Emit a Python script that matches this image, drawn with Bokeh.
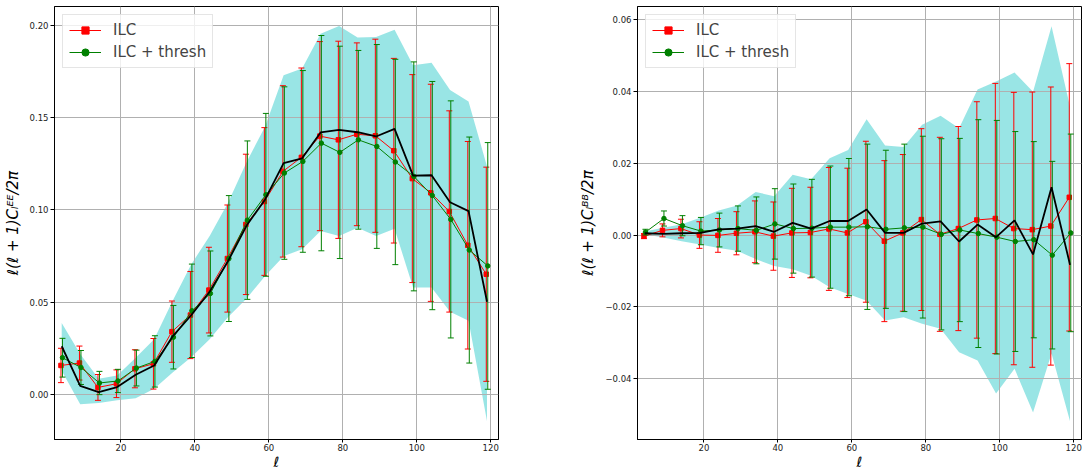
import numpy as np
from bokeh.plotting import figure
from bokeh.layouts import row
from bokeh.models import (ColumnDataSource, Range1d, FixedTicker, CustomJSTickFormatter,
                          Legend, LegendItem)
from bokeh.transform import dodge
from bokeh.embed import file_html
from bokeh.resources import INLINE

# multipole bins
ell = [4, 9, 14, 19, 24, 29, 34, 39, 44, 49, 54, 59, 64, 69, 74, 79, 84, 89, 94, 99, 104, 109, 114, 119]

# ---------------- EE ----------------
ee_input = [0.0262, 0.0047, 0.0014, 0.0041, 0.0108, 0.0158, 0.0316, 0.0430, 0.0557, 0.0724, 0.0916, 0.1057,
            0.1254, 0.1280, 0.1420, 0.1434, 0.1421, 0.1398, 0.1439, 0.1186, 0.1188, 0.1042, 0.0994, 0.0503]
ee_band_lo = [0.0130, -0.0052, -0.0045, -0.0030, -0.0020, 0.0032, 0.0120, 0.0203, 0.0300, 0.0420, 0.0520, 0.0643,
              0.0750, 0.0787, 0.0886, 0.0859, 0.0904, 0.0859, 0.0898, 0.0580, 0.0580, 0.0449, 0.0400, -0.0144]
ee_band_hi = [0.0388, 0.0220, 0.0086, 0.0104, 0.0200, 0.0300, 0.0508, 0.0705, 0.0859, 0.1040, 0.1260, 0.1452,
              0.1730, 0.1766, 0.1955, 0.1997, 0.1934, 0.1937, 0.1976, 0.1784, 0.1797, 0.1650, 0.1587, 0.1236]
ee_ilc = [0.0158, 0.0171, 0.0039, 0.0059, 0.0140, 0.0167, 0.0341, 0.0431, 0.0566, 0.0737, 0.0922, 0.1046,
          0.1209, 0.1285, 0.1400, 0.1380, 0.1410, 0.1402, 0.1321, 0.1170, 0.1093, 0.0992, 0.0809, 0.0652]
ee_ilc_err = [0.0093, 0.0092, 0.0070, 0.0075, 0.0103, 0.0137, 0.0166, 0.0236, 0.0232, 0.0290, 0.0380, 0.0400,
              0.0464, 0.0484, 0.0512, 0.0534, 0.0495, 0.0523, 0.0500, 0.0563, 0.0588, 0.0545, 0.0562, 0.0580]
ee_thr = [0.0200, 0.0147, 0.0063, 0.0074, 0.0144, 0.0180, 0.0311, 0.0454, 0.0548, 0.0737, 0.0945, 0.1082,
          0.1200, 0.1263, 0.1362, 0.1312, 0.1380, 0.1344, 0.1260, 0.1182, 0.1078, 0.0949, 0.0783, 0.0697]
ee_thr_err = [0.0105, 0.0092, 0.0063, 0.0063, 0.0097, 0.0139, 0.0172, 0.0253, 0.0230, 0.0341, 0.0429, 0.0441,
              0.0467, 0.0492, 0.0583, 0.0575, 0.0484, 0.0552, 0.0556, 0.0620, 0.0618, 0.0642, 0.0612, 0.0668]

# ---------------- BB ----------------
bb_input = [0.0005, 0.0003, 0.0005, 0.0006, 0.0016, 0.0018, 0.0025, 0.0009, 0.0034, 0.0018, 0.0039, 0.0039,
            0.0071, 0.0006, 0.0006, 0.0032, 0.0038, -0.0018, 0.0029, -0.0006, 0.0041, -0.0054, 0.0133, -0.0083]
bb_band_lo = [0.0002, -0.0007, -0.0017, -0.0026, -0.0036, -0.0044, -0.0067, -0.0086, -0.0095, -0.0113, -0.0145,
              -0.0164, -0.0183, -0.0238, -0.0229, -0.0247, -0.0261, -0.0326, -0.0349, -0.0441, -0.0372, -0.0494,
              -0.0330, -0.0518]
bb_band_hi = [0.0010, 0.0020, 0.0030, 0.0048, 0.0068, 0.0082, 0.0120, 0.0108, 0.0168, 0.0155, 0.0214, 0.0237,
              0.0322, 0.0249, 0.0245, 0.0307, 0.0332, 0.0297, 0.0405, 0.0427, 0.0452, 0.0399, 0.0581, 0.0357]
bb_ilc = [-0.0003, 0.0013, 0.0018, 0.0000, -0.0001, 0.0005, 0.0009, -0.0003, 0.0006, 0.0007, 0.0017, 0.0006,
          0.0037, -0.0017, 0.0006, 0.0043, 0.0002, 0.0018, 0.0042, 0.0046, 0.0018, 0.0015, 0.0025, 0.0105]
bb_ilc_err = [0.0007, 0.0018, 0.0026, 0.0037, 0.0047, 0.0060, 0.0086, 0.0095, 0.0124, 0.0126, 0.0171, 0.0180,
              0.0224, 0.0224, 0.0218, 0.0253, 0.0270, 0.0284, 0.0329, 0.0376, 0.0379, 0.0383, 0.0387, 0.0372]
bb_thr = [0.0008, 0.0046, 0.0026, 0.0011, 0.0014, 0.0018, 0.0013, 0.0031, 0.0018, 0.0019, 0.0022, 0.0022,
          0.0023, 0.0016, 0.0020, 0.0022, 0.0002, 0.0014, 0.0004, -0.0006, -0.0018, -0.0013, -0.0056, 0.0006]
bb_thr_err = [0.0008, 0.0021, 0.0028, 0.0038, 0.0047, 0.0063, 0.0093, 0.0098, 0.0124, 0.0136, 0.0170, 0.0191,
              0.0230, 0.0220, 0.0233, 0.0253, 0.0266, 0.0255, 0.0317, 0.0325, 0.0306, 0.0273, 0.0261, 0.0275]

x_ticks = [20, 40, 60, 80, 100, 120]
ee_ticks = [0.0, 0.05, 0.10, 0.15, 0.20]
bb_ticks = [-0.04, -0.02, 0.0, 0.02, 0.04, 0.06]

FONT = "DejaVu Sans"
RED = "#ff0000"
GREEN = "#008000"


def panel(inp, blo, bhi, ilc, ilc_err, thr, thr_err, yr, yticks, ylabel, bl, br):
    p = figure(frame_width=444, frame_height=433, min_border_left=bl, min_border_right=br,
               min_border_top=6, min_border_bottom=31,
               x_range=Range1d(2.05, 122.1), y_range=Range1d(*yr),
               output_backend="svg", toolbar_location=None)
    ilc = np.array(ilc); ilc_err = np.array(ilc_err)
    thr = np.array(thr); thr_err = np.array(thr_err)
    src = ColumnDataSource(dict(l=ell, inp=inp, blo=blo, bhi=bhi,
                                ilc=ilc, ilc_lo=ilc - ilc_err, ilc_hi=ilc + ilc_err,
                                thr=thr, thr_lo=thr - thr_err, thr_hi=thr + thr_err))
    p.varea(x='l', y1='blo', y2='bhi', source=src, fill_color="#00bfbf", fill_alpha=0.4, level="image")

    xr = dodge('l', -0.2)
    xg = dodge('l', 0.2)
    # ILC
    p.segment(x0=xr, y0='ilc_lo', x1=xr, y1='ilc_hi', source=src, line_color=RED, line_width=1)
    p.scatter(x=xr, y='ilc_lo', marker='dash', size=6, line_color=RED, line_width=1, source=src)
    p.scatter(x=xr, y='ilc_hi', marker='dash', size=6, line_color=RED, line_width=1, source=src)
    r_line = p.line(x=xr, y='ilc', source=src, line_color=RED, line_width=1)
    r_pts = p.scatter(x=xr, y='ilc', marker='square', size=4.5, fill_color=RED, line_color=RED, source=src)
    # ILC + thresh
    p.segment(x0=xg, y0='thr_lo', x1=xg, y1='thr_hi', source=src, line_color=GREEN, line_width=1)
    p.scatter(x=xg, y='thr_lo', marker='dash', size=6, line_color=GREEN, line_width=1, source=src)
    p.scatter(x=xg, y='thr_hi', marker='dash', size=6, line_color=GREEN, line_width=1, source=src)
    g_line = p.line(x=xg, y='thr', source=src, line_color=GREEN, line_width=1)
    g_pts = p.scatter(x=xg, y='thr', marker='circle', size=4.5, fill_color=GREEN, line_color=GREEN, source=src)
    # input
    p.line(x='l', y='inp', source=src, line_color="black", line_width=1.8)

    legend = Legend(items=[LegendItem(label="ILC", renderers=[r_line, r_pts]),
                           LegendItem(label="ILC + thresh", renderers=[g_line, g_pts])],
                    location="top_left", margin=8, padding=6, spacing=4,
                    glyph_width=32, glyph_height=18, label_standoff=12,
                    label_text_font=FONT, label_text_font_size="15px",
                    border_line_color="#cccccc", border_line_width=1,
                    background_fill_color="white", background_fill_alpha=0.8)
    p.add_layout(legend)

    xt = FixedTicker(ticks=x_ticks)
    yt = FixedTicker(ticks=yticks)
    p.xaxis.ticker = xt
    p.xgrid.ticker = xt
    p.yaxis.ticker = yt
    p.ygrid.ticker = yt
    p.yaxis.formatter = CustomJSTickFormatter(code="return tick.toFixed(2).replace('-', '\u2212');")
    p.grid.grid_line_color = "#b0b0b0"
    p.grid.grid_line_width = 1
    p.axis.minor_tick_line_color = None
    p.axis.major_tick_out = 4
    p.axis.major_tick_in = 0
    p.axis.major_tick_line_color = "black"
    p.axis.axis_line_color = "black"
    p.axis.major_label_text_font = FONT
    p.axis.major_label_text_font_size = "8.5px"
    p.axis.major_label_text_color = "#222222"
    p.axis.major_label_standoff = 2
    p.axis.axis_label_text_font = FONT
    p.axis.axis_label_text_font_size = "15px"
    p.axis.axis_label_text_font_style = "italic"
    p.axis.axis_label_text_color = "black"
    p.xaxis.axis_label = "ℓ"
    p.xaxis.axis_label_text_font_size = "14px"
    p.xaxis.axis_label_standoff = 0
    p.xaxis.major_label_standoff = 1
    p.xaxis.major_tick_out = 3
    p.yaxis.axis_label = ylabel
    p.yaxis.axis_label_standoff = 5
    p.outline_line_color = "black"
    p.outline_line_width = 1
    p.outline_line_alpha = 1
    return p


p1 = panel(ee_input, ee_band_lo, ee_band_hi, ee_ilc, ee_ilc_err, ee_thr, ee_thr_err,
           (-0.0243, 0.2102), ee_ticks, "ℓ(ℓ + 1)Cₗᴱᴱ/2π", 54, 62)
p2 = panel(bb_input, bb_band_lo, bb_band_hi, bb_ilc, bb_ilc_err, bb_thr, bb_thr_err,
           (-0.0569, 0.0636), bb_ticks, "ℓ(ℓ + 1)Cₗᴮᴮ/2π", 77, 1)

layout = row(p1, p2)
open("out.html", "w").write(file_html(layout, INLINE))
